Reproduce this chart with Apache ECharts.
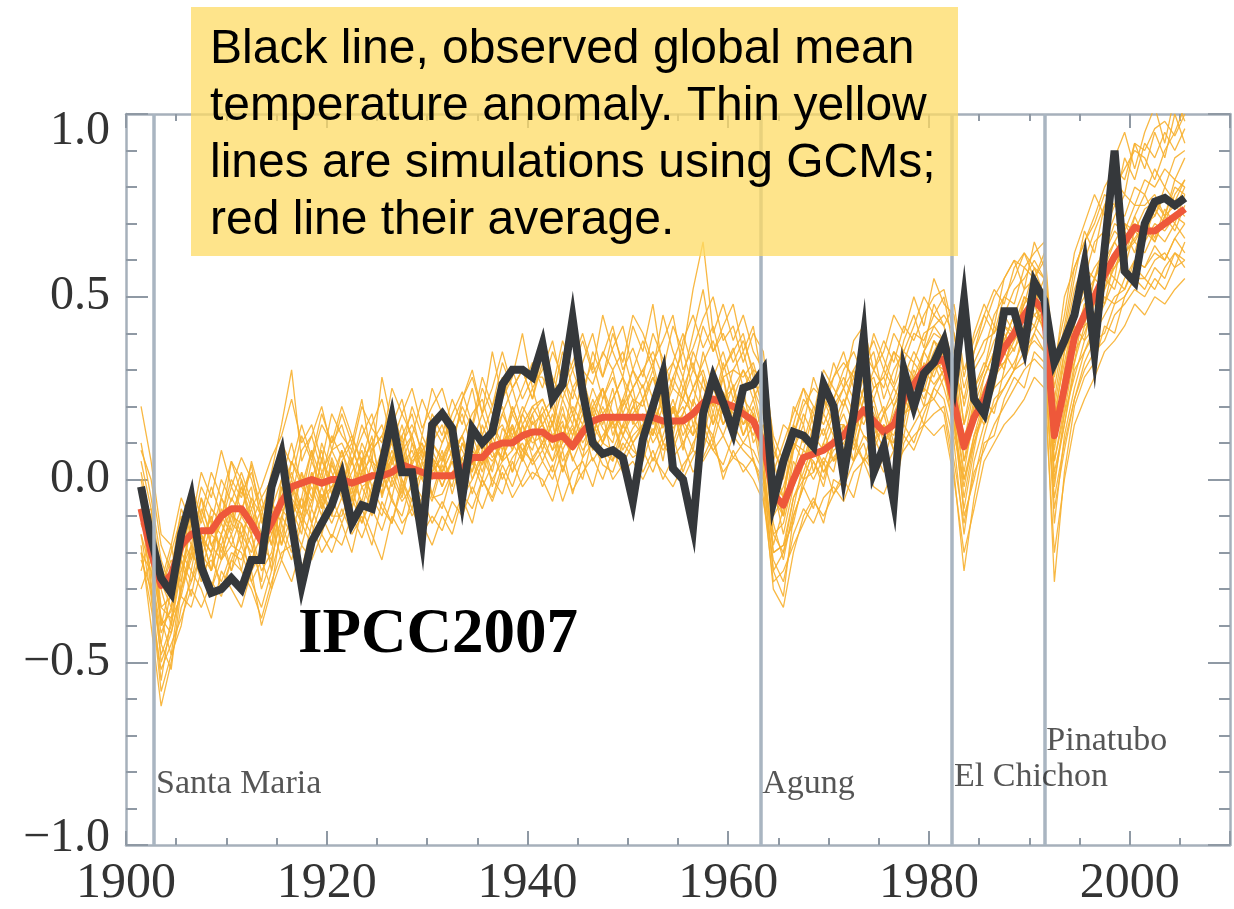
<!DOCTYPE html>
<html>
<head>
<meta charset="utf-8">
<title>Global mean temperature anomaly: observations and GCM simulations</title>
<script src="https://cdn.jsdelivr.net/npm/echarts@6.0.0/dist/echarts.min.js"></script>
<style>
  html, body { margin: 0; padding: 0; background: #ffffff; }
  #chart { width: 1234px; height: 909px; }
</style>
</head>
<body>
<div id="chart"></div>
<script>
// Annual values start in this year; each is plotted at mid-year.
const firstYear = 1901;

// Observed global mean temperature anomaly (°C), 1901-2005
const observed = [
  -0.02, -0.16, -0.27, -0.31, -0.15, -0.05, -0.24, -0.31, -0.30, -0.27,
  -0.30, -0.22, -0.22, -0.02, 0.07, -0.12, -0.29, -0.17, -0.12, -0.07,
  0.01, -0.12, -0.07, -0.08, 0.04, 0.17, 0.02, 0.02, -0.16, 0.15,
  0.18, 0.14, -0.05, 0.14, 0.10, 0.13, 0.26, 0.30, 0.30, 0.28,
  0.37, 0.22, 0.26, 0.44, 0.24, 0.10, 0.07, 0.08, 0.06, -0.06,
  0.11, 0.20, 0.29, 0.03, 0.00, -0.13, 0.18, 0.28, 0.21, 0.13,
  0.25, 0.26, 0.30, -0.06, 0.05, 0.13, 0.12, 0.09, 0.26, 0.20,
  0.01, 0.18, 0.39, 0.02, 0.09, -0.06, 0.30, 0.20, 0.29, 0.32,
  0.38, 0.26, 0.49, 0.22, 0.18, 0.30, 0.46, 0.46, 0.36, 0.54,
  0.49, 0.32, 0.38, 0.45, 0.59, 0.35, 0.63, 0.90, 0.57, 0.54,
  0.70, 0.76, 0.77, 0.75, 0.77
];

// Multi-model ensemble mean (°C), 1901-2005
const modelMean = [
  -0.08, -0.20, -0.29, -0.26, -0.18, -0.15, -0.14, -0.14, -0.10, -0.08,
  -0.08, -0.12, -0.17, -0.12, -0.06, -0.02, -0.01, 0.00, -0.01, 0.00,
  0.00, -0.01, 0.00, 0.01, 0.01, 0.02, 0.04, 0.03, 0.02, 0.01,
  0.01, 0.01, 0.03, 0.06, 0.06, 0.09, 0.10, 0.10, 0.12, 0.13,
  0.13, 0.11, 0.12, 0.09, 0.13, 0.16, 0.17, 0.17, 0.17, 0.17,
  0.17, 0.17, 0.16, 0.16, 0.16, 0.18, 0.21, 0.22, 0.21, 0.20,
  0.18, 0.16, 0.10, -0.04, -0.07, 0.00, 0.06, 0.07, 0.08, 0.10,
  0.12, 0.16, 0.19, 0.16, 0.13, 0.15, 0.22, 0.26, 0.30, 0.32,
  0.33, 0.21, 0.09, 0.17, 0.22, 0.30, 0.36, 0.40, 0.45, 0.49,
  0.46, 0.12, 0.25, 0.39, 0.45, 0.50, 0.56, 0.61, 0.65, 0.69,
  0.68, 0.68, 0.70, 0.72, 0.74
];

// Individual GCM simulations (°C), 1901-2005
const simRuns = [
  [0.10,-0.05,-0.22,-0.30,-0.12,-0.02,-0.10,0.02,-0.05,0.05,
   0.00,-0.08,-0.02,0.06,0.12,0.22,0.10,0.15,0.05,0.18,
   0.12,0.08,0.20,0.14,0.10,0.25,0.18,0.12,0.22,0.15,
   0.10,0.18,0.24,0.15,0.28,0.20,0.32,0.25,0.30,0.22,
   0.35,0.28,0.22,0.30,0.38,0.29,0.34,0.42,0.30,0.36,
   0.28,0.40,0.33,0.25,0.38,0.45,0.36,0.42,0.30,0.35,
   0.40,0.28,0.20,0.02,0.10,0.18,0.25,0.15,0.28,0.22,
   0.30,0.35,0.28,0.40,0.33,0.26,0.38,0.45,0.36,0.48,
   0.42,0.30,0.22,0.35,0.45,0.52,0.48,0.58,0.62,0.55,
   0.60,0.25,0.40,0.55,0.68,0.62,0.75,0.82,0.78,0.92,
   0.85,0.95,0.88,1.00,0.92],
  [-0.20,-0.35,-0.52,-0.45,-0.38,-0.30,-0.35,-0.28,-0.32,-0.22,
   -0.25,-0.30,-0.38,-0.28,-0.20,-0.18,-0.25,-0.12,-0.20,-0.15,
   -0.18,-0.10,-0.16,-0.08,-0.14,-0.05,-0.12,-0.08,-0.15,-0.10,
   -0.14,-0.06,-0.10,-0.02,-0.08,0.00,-0.04,0.05,-0.02,0.02,
   0.00,-0.06,0.04,-0.03,0.02,0.06,0.00,0.08,0.02,0.05,
   0.00,0.06,0.02,-0.02,0.04,0.08,0.05,0.10,0.02,0.06,
   0.04,0.00,-0.06,-0.22,-0.28,-0.15,-0.08,-0.12,-0.05,-0.02,
   -0.06,0.02,0.05,-0.02,-0.04,0.03,0.08,0.12,0.15,0.18,
   0.20,0.05,-0.12,0.02,0.08,0.15,0.20,0.25,0.30,0.33,
   0.30,-0.05,0.10,0.22,0.30,0.35,0.38,0.45,0.48,0.52,
   0.50,0.55,0.52,0.58,0.60],
  [-0.02,-0.28,-0.48,-0.40,-0.25,-0.18,-0.22,-0.12,-0.15,-0.05,
   -0.10,-0.15,-0.25,-0.20,-0.05,0.02,-0.08,0.05,-0.02,0.08,
   0.02,-0.06,0.05,0.10,-0.02,0.06,0.12,0.00,0.08,-0.04,
   0.05,0.10,0.02,0.12,0.05,0.15,0.08,0.18,0.12,0.20,
   0.15,0.08,0.18,0.12,0.22,0.16,0.25,0.18,0.12,0.20,
   0.26,0.15,0.22,0.10,0.18,0.25,0.30,0.20,0.28,0.16,
   0.22,0.18,0.05,-0.20,-0.18,-0.05,0.02,0.10,0.04,0.12,
   0.18,0.10,0.22,0.15,0.08,0.20,0.25,0.18,0.32,0.28,
   0.36,0.18,-0.05,0.10,0.20,0.28,0.35,0.30,0.42,0.48,
   0.40,-0.02,0.18,0.35,0.40,0.48,0.55,0.52,0.62,0.66,
   0.70,0.65,0.72,0.68,0.75],
  [-0.12,-0.18,-0.30,-0.22,-0.28,-0.10,-0.16,-0.20,-0.08,-0.14,
   -0.02,-0.12,-0.18,-0.06,-0.12,0.05,0.00,-0.08,0.06,-0.04,
   0.08,0.00,-0.06,0.05,0.02,-0.05,0.08,0.12,0.02,0.06,
   -0.02,0.06,0.12,0.04,0.10,0.02,0.14,0.10,0.05,0.16,
   0.10,0.18,0.08,0.14,0.06,0.20,0.14,0.10,0.22,0.16,
   0.12,0.20,0.14,0.22,0.12,0.18,0.10,0.25,0.18,0.26,
   0.15,0.22,0.12,0.00,-0.10,0.05,0.00,0.08,0.14,0.05,
   0.12,0.20,0.15,0.22,0.12,0.10,0.18,0.30,0.24,0.34,
   0.28,0.24,0.10,0.20,0.15,0.32,0.38,0.45,0.40,0.50,
   0.52,0.15,0.22,0.42,0.38,0.52,0.48,0.60,0.68,0.62,
   0.72,0.66,0.74,0.70,0.78],
  [0.20,0.05,-0.15,-0.18,-0.05,-0.12,0.02,-0.05,0.08,-0.02,
   0.06,0.00,-0.10,0.02,0.15,0.30,0.05,0.12,0.20,0.08,
   0.18,0.10,0.22,0.05,0.28,0.15,0.08,0.20,0.12,0.25,
   0.18,0.08,0.22,0.30,0.18,0.35,0.22,0.28,0.40,0.25,
   0.30,0.38,0.25,0.32,0.40,0.30,0.45,0.35,0.28,0.42,
   0.35,0.48,0.30,0.42,0.35,0.52,0.65,0.40,0.48,0.38,
   0.45,0.35,0.30,0.12,0.05,0.20,0.15,0.28,0.20,0.32,
   0.25,0.38,0.42,0.30,0.35,0.45,0.40,0.50,0.42,0.55,
   0.48,0.45,0.28,0.40,0.48,0.42,0.55,0.60,0.52,0.65,
   0.58,0.32,0.45,0.62,0.70,0.78,0.72,0.88,0.95,0.85,
   0.95,1.02,0.92,1.05,0.98],
  [-0.18,-0.40,-0.62,-0.50,-0.35,-0.28,-0.20,-0.30,-0.22,-0.18,
   -0.20,-0.28,-0.35,-0.25,-0.15,-0.22,-0.12,-0.18,-0.10,-0.16,
   -0.08,-0.15,-0.10,-0.18,-0.06,-0.12,-0.02,-0.10,-0.05,-0.12,
   -0.06,-0.12,-0.04,-0.08,0.00,-0.05,0.04,-0.02,0.06,0.00,
   0.05,0.00,0.08,-0.04,0.06,0.10,0.04,0.02,0.10,0.06,
   0.08,0.02,0.10,0.05,0.00,0.06,0.12,0.08,0.04,0.12,
   0.08,0.05,-0.02,-0.30,-0.35,-0.20,-0.10,-0.05,-0.12,0.00,
   -0.02,0.05,0.10,0.00,0.06,-0.05,0.10,0.15,0.20,0.22,
   0.18,0.02,-0.25,-0.05,0.10,0.12,0.22,0.28,0.25,0.35,
   0.32,-0.28,0.02,0.20,0.28,0.32,0.42,0.40,0.50,0.55,
   0.52,0.58,0.55,0.62,0.58],
  [-0.05,-0.10,-0.35,-0.32,-0.20,-0.25,-0.10,-0.18,-0.12,-0.02,
   -0.08,-0.02,-0.22,-0.15,-0.08,-0.12,0.02,-0.05,0.10,0.02,
   -0.05,0.05,-0.02,0.00,0.08,0.02,-0.05,0.06,0.10,0.00,
   0.08,-0.04,0.06,0.10,0.02,0.12,0.05,0.15,0.08,0.12,
   0.20,0.12,0.16,0.05,0.12,0.22,0.15,0.25,0.12,0.18,
   0.22,0.12,0.25,0.18,0.28,0.15,0.22,0.30,0.20,0.14,
   0.25,0.10,0.15,-0.08,-0.02,0.08,0.15,0.02,0.10,0.18,
   0.08,0.15,0.25,0.12,0.18,0.22,0.30,0.22,0.28,0.35,
   0.40,0.30,0.05,0.15,0.28,0.35,0.30,0.42,0.50,0.45,
   0.48,0.08,0.25,0.32,0.48,0.45,0.58,0.65,0.60,0.72,
   0.66,0.74,0.70,0.78,0.82],
  [-0.15,-0.25,-0.42,-0.35,-0.22,-0.08,-0.18,-0.10,-0.20,-0.12,
   -0.15,-0.20,-0.10,-0.18,-0.02,-0.08,-0.15,0.02,-0.06,0.04,
   -0.02,0.06,-0.08,0.02,0.00,0.08,0.00,-0.06,0.04,0.08,
   0.02,0.08,0.00,0.05,0.12,0.06,0.10,0.02,0.15,0.10,
   0.12,0.05,0.10,0.15,0.08,0.12,0.20,0.14,0.18,0.10,
   0.15,0.22,0.10,0.16,0.20,0.12,0.28,0.15,0.22,0.25,
   0.12,0.20,0.08,-0.12,-0.22,-0.08,0.05,0.00,0.06,0.02,
   0.15,0.08,0.18,0.20,0.10,0.15,0.12,0.25,0.35,0.30,
   0.32,0.15,-0.02,0.12,0.22,0.25,0.40,0.35,0.45,0.52,
   0.45,0.05,0.20,0.40,0.42,0.55,0.52,0.62,0.58,0.68,
   0.65,0.70,0.68,0.72,0.70],
  [0.05,-0.08,-0.25,-0.28,-0.15,-0.05,-0.12,-0.02,-0.10,0.00,
   -0.05,0.04,-0.12,-0.05,0.08,0.00,0.12,0.05,0.15,0.10,
   0.15,0.05,0.12,0.18,0.06,0.15,0.22,0.10,0.05,0.18,
   0.12,0.22,0.15,0.25,0.12,0.20,0.28,0.18,0.25,0.32,
   0.25,0.35,0.28,0.22,0.32,0.40,0.28,0.36,0.42,0.30,
   0.38,0.30,0.45,0.35,0.28,0.40,0.52,0.35,0.42,0.48,
   0.35,0.42,0.25,0.05,0.15,0.12,0.22,0.18,0.30,0.25,
   0.20,0.30,0.35,0.25,0.28,0.35,0.32,0.40,0.38,0.45,
   0.50,0.35,0.15,0.30,0.35,0.45,0.50,0.48,0.58,0.55,
   0.62,0.20,0.35,0.48,0.55,0.65,0.68,0.75,0.72,0.80,
   0.78,0.85,0.80,0.88,0.90],
  [-0.10,-0.22,-0.38,-0.42,-0.30,-0.20,-0.25,-0.15,-0.18,-0.10,
   -0.12,-0.18,-0.28,-0.10,-0.15,-0.05,-0.10,0.00,-0.08,-0.02,
   0.04,-0.05,0.02,-0.04,0.05,-0.02,0.06,0.02,-0.08,0.04,
   0.00,0.05,-0.02,0.08,0.04,0.10,0.06,0.12,0.08,0.05,
   0.10,0.15,0.05,0.10,0.18,0.08,0.12,0.16,0.08,0.14,
   0.18,0.10,0.15,0.20,0.08,0.22,0.16,0.12,0.24,0.18,
   0.20,0.15,0.10,-0.15,-0.12,0.00,0.08,0.05,0.00,0.10,
   0.05,0.18,0.12,0.08,0.15,0.12,0.22,0.18,0.30,0.26,
   0.30,0.20,0.02,0.18,0.25,0.30,0.32,0.38,0.42,0.48,
   0.42,0.10,0.28,0.36,0.45,0.50,0.55,0.58,0.64,0.70,
   0.68,0.65,0.72,0.75,0.72],
  [0.00,-0.15,-0.30,-0.20,-0.10,-0.18,-0.05,-0.12,0.00,-0.06,
   0.02,-0.06,-0.15,-0.08,0.00,0.10,-0.02,0.08,0.00,0.12,
   0.06,0.12,0.04,0.10,0.15,0.05,0.12,0.18,0.06,0.10,
   0.15,0.06,0.12,0.18,0.22,0.12,0.18,0.25,0.15,0.20,
   0.22,0.15,0.30,0.18,0.25,0.32,0.22,0.28,0.20,0.30,
   0.25,0.32,0.20,0.28,0.35,0.25,0.32,0.38,0.28,0.30,
   0.28,0.32,0.22,0.00,-0.05,0.15,0.10,0.20,0.15,0.22,
   0.28,0.22,0.30,0.35,0.22,0.30,0.35,0.32,0.40,0.42,
   0.45,0.40,0.20,0.32,0.38,0.40,0.45,0.52,0.55,0.60,
   0.55,0.22,0.38,0.52,0.60,0.68,0.75,0.80,0.85,0.90,
   0.88,0.82,0.90,0.95,1.02],
  [-0.22,-0.30,-0.55,-0.38,-0.32,-0.35,-0.25,-0.22,-0.28,-0.20,
   -0.22,-0.15,-0.30,-0.22,-0.10,-0.15,-0.05,-0.12,-0.02,-0.10,
   -0.10,-0.02,-0.12,-0.05,-0.10,0.00,-0.06,-0.02,0.05,-0.05,
   -0.04,0.02,0.06,-0.04,0.05,0.08,0.00,0.06,0.10,0.04,
   0.08,0.02,0.12,0.06,0.00,0.12,0.08,0.05,0.12,0.08,
   0.05,0.14,0.08,0.12,0.02,0.10,0.15,0.08,0.12,0.06,
   0.10,0.08,0.02,-0.25,-0.20,-0.10,-0.02,-0.08,0.05,-0.04,
   0.02,0.10,0.05,0.08,0.02,0.08,0.15,0.10,0.18,0.25,
   0.22,0.10,-0.15,0.05,0.15,0.20,0.25,0.30,0.35,0.38,
   0.35,-0.12,0.12,0.25,0.35,0.40,0.45,0.50,0.52,0.58,
   0.55,0.60,0.62,0.58,0.65],
  [-0.08,-0.30,-0.45,-0.30,-0.15,-0.22,-0.08,-0.15,-0.05,-0.10,
   -0.02,-0.10,-0.20,-0.12,-0.05,0.05,-0.02,-0.06,0.05,0.00,
   0.08,-0.02,0.10,0.04,-0.04,0.12,0.04,0.08,0.00,0.10,
   0.05,0.12,0.08,0.02,0.15,0.08,0.18,0.12,0.20,0.15,
   0.18,0.22,0.12,0.20,0.15,0.25,0.18,0.22,0.28,0.22,
   0.20,0.28,0.18,0.25,0.22,0.30,0.25,0.20,0.32,0.22,
   0.30,0.25,0.18,-0.05,-0.10,0.02,0.12,0.08,0.18,0.12,
   0.20,0.28,0.18,0.25,0.28,0.20,0.28,0.35,0.30,0.38,
   0.35,0.28,0.08,0.22,0.30,0.38,0.42,0.40,0.48,0.58,
   0.50,0.12,0.30,0.45,0.52,0.58,0.62,0.70,0.68,0.75,
   0.75,0.78,0.72,0.80,0.78],
  [-0.12,-0.20,-0.40,-0.28,-0.25,-0.12,-0.20,-0.25,-0.15,-0.08,
   -0.15,-0.08,-0.18,-0.22,-0.10,-0.02,-0.08,-0.02,-0.10,0.05,
   -0.04,0.02,0.08,-0.02,0.04,0.10,-0.02,0.05,0.08,0.02,
   0.06,0.00,0.10,0.06,0.00,0.12,0.15,0.08,0.18,0.12,
   0.15,0.10,0.20,0.08,0.14,0.18,0.25,0.12,0.20,0.25,
   0.12,0.20,0.28,0.15,0.22,0.18,0.20,0.28,0.15,0.22,
   0.18,0.12,0.20,-0.02,-0.15,-0.02,0.05,0.12,0.08,0.15,
   0.15,0.12,0.22,0.18,0.12,0.18,0.25,0.28,0.22,0.30,
   0.35,0.25,0.12,0.18,0.20,0.32,0.35,0.40,0.45,0.42,
   0.50,0.18,0.25,0.38,0.48,0.50,0.58,0.55,0.70,0.65,
   0.70,0.72,0.78,0.74,0.80],
  [-0.05,-0.12,-0.28,-0.35,-0.20,-0.15,-0.02,-0.08,-0.12,0.05,
   -0.04,0.02,-0.08,-0.02,0.05,-0.05,0.08,0.12,0.02,0.08,
   0.10,0.04,0.15,0.08,0.12,0.20,0.10,0.15,0.08,0.12,
   0.18,0.10,0.20,0.14,0.25,0.18,0.22,0.30,0.22,0.28,
   0.28,0.22,0.35,0.25,0.30,0.26,0.35,0.30,0.35,0.25,
   0.30,0.35,0.28,0.32,0.40,0.30,0.42,0.35,0.40,0.32,
   0.38,0.30,0.28,0.08,0.02,0.12,0.20,0.25,0.22,0.28,
   0.32,0.28,0.35,0.30,0.38,0.32,0.42,0.38,0.45,0.50,
   0.52,0.40,0.25,0.35,0.42,0.50,0.55,0.60,0.58,0.62,
   0.65,0.28,0.42,0.58,0.65,0.72,0.80,0.85,0.82,0.92,
   0.90,0.96,0.98,0.94,1.00],
  [-0.02,-0.18,-0.35,-0.38,-0.22,-0.28,-0.15,-0.20,-0.10,-0.15,
   -0.08,-0.12,-0.05,-0.15,-0.08,0.00,-0.10,0.02,-0.05,-0.02,
   0.00,-0.08,0.02,0.06,-0.04,0.02,0.08,-0.02,0.02,0.06,
   0.02,0.08,0.12,0.00,0.08,0.05,0.10,0.15,0.05,0.12,
   0.15,0.08,0.12,0.18,0.10,0.15,0.10,0.18,0.14,0.20,
   0.16,0.12,0.20,0.14,0.18,0.25,0.18,0.22,0.15,0.20,
   0.15,0.18,0.05,-0.18,-0.08,0.00,0.05,0.10,0.02,0.08,
   0.10,0.15,0.18,0.12,0.05,0.15,0.20,0.25,0.28,0.32,
   0.30,0.12,0.00,0.12,0.18,0.28,0.32,0.36,0.40,0.45,
   0.42,0.02,0.15,0.32,0.42,0.45,0.52,0.58,0.62,0.65,
   0.62,0.68,0.65,0.70,0.66],
  [-0.25,-0.15,-0.38,-0.48,-0.28,-0.12,-0.22,-0.30,-0.18,-0.25,
   -0.12,-0.22,-0.15,-0.05,-0.18,-0.10,0.02,-0.12,-0.04,-0.10,
   0.02,-0.08,0.05,-0.10,0.00,0.06,-0.04,0.10,0.00,-0.06,
   0.04,-0.02,0.10,0.02,0.12,-0.02,0.08,0.14,0.06,0.18,
   0.08,0.16,0.02,0.12,0.20,0.10,0.18,0.05,0.15,0.22,
   0.10,0.18,0.05,0.20,0.15,0.08,0.22,0.15,0.28,0.12,
   0.20,0.05,0.00,-0.25,-0.32,-0.10,-0.02,0.05,-0.02,0.10,
   0.15,0.05,0.20,0.10,0.18,0.08,0.15,0.28,0.20,0.32,
   0.25,0.15,-0.08,0.08,0.22,0.18,0.30,0.42,0.35,0.40,
   0.48,0.00,0.15,0.30,0.35,0.42,0.50,0.48,0.55,0.60,
   0.58,0.62,0.60,0.66,0.62],
  [0.08,0.00,-0.18,-0.25,-0.08,-0.15,-0.20,-0.08,-0.12,-0.18,
   -0.10,0.05,-0.05,0.00,0.10,0.04,0.15,0.06,0.18,0.10,
   0.20,0.12,0.05,0.15,0.22,0.10,0.18,0.25,0.14,0.20,
   0.25,0.15,0.22,0.28,0.18,0.25,0.35,0.25,0.30,0.22,
   0.32,0.25,0.38,0.30,0.22,0.35,0.28,0.40,0.32,0.45,
   0.40,0.32,0.38,0.45,0.30,0.36,0.44,0.50,0.38,0.42,
   0.32,0.40,0.35,0.10,0.00,0.15,0.25,0.20,0.18,0.28,
   0.35,0.25,0.32,0.38,0.30,0.40,0.35,0.42,0.50,0.45,
   0.42,0.48,0.30,0.38,0.45,0.40,0.50,0.55,0.62,0.58,
   0.55,0.30,0.50,0.58,0.65,0.70,0.78,0.75,0.88,0.82,
   0.92,0.88,0.95,0.90,0.96],
  [-0.15,-0.32,-0.58,-0.48,-0.40,-0.25,-0.30,-0.38,-0.25,-0.30,
   -0.35,-0.25,-0.40,-0.30,-0.22,-0.28,-0.18,-0.22,-0.15,-0.20,
   -0.12,-0.20,-0.08,-0.15,-0.22,-0.10,-0.15,-0.05,-0.12,-0.18,
   -0.10,-0.15,-0.05,-0.12,0.00,-0.06,0.02,-0.05,0.00,0.06,
   -0.02,0.04,-0.06,0.02,0.05,-0.02,0.08,0.00,0.04,0.10,
   0.02,0.08,0.00,0.06,0.10,0.02,0.06,0.12,0.00,0.08,
   0.02,0.06,-0.05,-0.28,-0.25,-0.18,-0.12,-0.06,-0.10,-0.04,
   0.00,-0.05,0.06,0.02,0.08,0.00,0.12,0.08,0.15,0.12,
   0.15,0.00,-0.20,-0.08,0.05,0.10,0.15,0.18,0.22,0.28,
   0.25,-0.20,0.00,0.15,0.22,0.28,0.35,0.38,0.42,0.48,
   0.45,0.50,0.48,0.52,0.55],
  [-0.08,-0.20,-0.28,-0.18,-0.32,-0.20,-0.05,-0.18,-0.22,-0.08,
   -0.18,-0.05,-0.10,-0.25,-0.02,-0.10,-0.05,0.08,-0.08,0.06,
   -0.02,0.08,0.02,0.12,-0.05,0.05,0.15,0.04,0.10,0.02,
   0.10,0.16,0.04,0.10,0.18,0.10,0.05,0.20,0.12,0.08,
   0.18,0.10,0.22,0.15,0.28,0.18,0.10,0.22,0.28,0.15,
   0.22,0.30,0.18,0.12,0.25,0.32,0.20,0.28,0.35,0.25,
   0.30,0.22,0.28,0.05,-0.05,0.10,0.05,0.15,0.22,0.15,
   0.22,0.15,0.25,0.28,0.18,0.25,0.20,0.32,0.28,0.38,
   0.32,0.35,0.15,0.25,0.32,0.28,0.42,0.38,0.50,0.48,
   0.55,0.18,0.32,0.45,0.50,0.55,0.62,0.68,0.65,0.72,
   0.78,0.72,0.80,0.76,0.82],
  [0.02,-0.12,-0.40,-0.36,-0.18,-0.10,-0.15,-0.25,-0.05,-0.12,
   0.00,-0.15,-0.08,-0.18,0.00,-0.06,-0.12,0.00,0.08,-0.04,
   0.05,0.10,0.00,0.08,0.12,0.04,0.10,-0.02,0.12,0.06,
   0.02,0.12,0.18,0.08,0.04,0.15,0.20,0.10,0.18,0.25,
   0.15,0.20,0.10,0.25,0.18,0.12,0.22,0.30,0.18,0.25,
   0.30,0.22,0.15,0.28,0.22,0.35,0.28,0.18,0.30,0.36,
   0.25,0.30,0.18,-0.02,-0.10,0.08,0.18,0.12,0.22,0.18,
   0.25,0.30,0.22,0.30,0.25,0.35,0.28,0.22,0.35,0.40,
   0.38,0.32,0.10,0.25,0.30,0.42,0.38,0.45,0.52,0.55,
   0.50,0.15,0.35,0.42,0.58,0.55,0.65,0.72,0.78,0.75,
   0.82,0.80,0.85,0.82,0.88],
  [-0.20,-0.25,-0.45,-0.52,-0.30,-0.22,-0.15,-0.25,-0.15,-0.25,
   -0.18,-0.25,-0.20,-0.12,-0.22,-0.12,-0.18,-0.08,-0.15,-0.05,
   -0.12,-0.05,-0.12,-0.02,-0.08,-0.12,0.00,-0.08,0.02,-0.04,
   -0.08,0.02,-0.04,0.05,-0.02,0.04,0.10,0.02,0.08,0.12,
   0.05,0.12,0.02,0.10,0.15,0.05,0.10,0.16,0.06,0.12,
   0.15,0.05,0.12,0.20,0.10,0.15,0.08,0.18,0.12,0.20,
   0.12,0.18,0.02,-0.20,-0.18,-0.12,0.00,0.02,0.10,0.05,
   0.08,0.12,0.05,0.15,0.20,0.10,0.18,0.22,0.15,0.25,
   0.30,0.20,0.00,0.10,0.18,0.25,0.28,0.32,0.38,0.42,
   0.38,0.05,0.18,0.28,0.38,0.42,0.48,0.55,0.52,0.60,
   0.58,0.64,0.60,0.66,0.70],
  [-0.10,-0.08,-0.30,-0.40,-0.22,-0.32,-0.18,-0.10,-0.22,-0.15,
   -0.25,-0.10,-0.18,-0.08,-0.18,-0.02,-0.12,-0.06,0.02,-0.08,
   0.05,-0.04,0.06,-0.06,0.08,0.00,0.05,0.12,0.02,0.10,
   0.06,0.12,0.02,0.15,0.08,0.15,0.10,0.20,0.12,0.18,
   0.22,0.15,0.25,0.18,0.12,0.20,0.25,0.15,0.22,0.30,
   0.22,0.28,0.22,0.32,0.25,0.20,0.35,0.25,0.20,0.30,
   0.35,0.25,0.12,-0.10,-0.05,0.10,0.08,0.18,0.12,0.20,
   0.25,0.18,0.28,0.22,0.30,0.25,0.32,0.28,0.35,0.42,
   0.38,0.28,0.05,0.20,0.28,0.35,0.45,0.40,0.48,0.52,
   0.52,0.10,0.28,0.40,0.45,0.55,0.60,0.65,0.70,0.68,
   0.74,0.76,0.72,0.82,0.80],
  [-0.30,-0.22,-0.50,-0.42,-0.30,-0.18,-0.28,-0.20,-0.30,-0.22,
   -0.15,-0.28,-0.22,-0.30,-0.12,-0.20,-0.10,-0.15,-0.06,-0.12,
   -0.05,-0.12,-0.02,-0.08,0.02,-0.06,-0.10,0.00,-0.05,0.05,
   -0.02,0.05,-0.05,0.00,0.06,0.00,0.05,0.08,0.15,0.06,
   0.10,0.05,0.15,0.08,0.12,0.18,0.10,0.08,0.15,0.10,
   0.14,0.18,0.10,0.08,0.16,0.12,0.18,0.10,0.20,0.15,
   0.10,0.15,0.00,-0.15,-0.20,-0.05,0.00,0.08,0.02,0.06,
   0.10,0.05,0.12,0.10,0.15,0.08,0.18,0.20,0.25,0.22,
   0.28,0.18,-0.10,0.00,0.12,0.22,0.25,0.30,0.32,0.40,
   0.35,-0.08,0.08,0.22,0.32,0.38,0.40,0.48,0.50,0.55,
   0.55,0.52,0.58,0.62,0.60]
];

// Major volcanic eruptions (decimal year of eruption)
const eruptionNames = ['Santa Maria', 'Agung', 'El Chichon', 'Pinatubo'];
const eruptionDates = [1902.8, 1963.2, 1982.3, 1991.5];

// Axis tick labels
const xLabelYears = [1900, 1920, 1940, 1960, 1980, 2000];
const yLabelValues = [-1.0, -0.5, 0.0, 0.5, 1.0];

const boxText = [
  'Black line, observed global mean',
  'temperature anomaly. Thin yellow',
  'lines are simulations using GCMs;',
  'red line their average.'
];

const serif = '"Liberation Serif", "Times New Roman", serif';
const sans = '"Liberation Sans", Arial, sans-serif';

const toPairs = arr => arr.map((v, i) => [firstYear + i + 0.5, v]);

const frameLine = { show: true, onZero: false, lineStyle: { color: '#a6b0bb', width: 2.5 } };
const tickLine = { color: '#8f99a4', width: 2 };

function yLabel(v) {
  if (!yLabelValues.some(t => Math.abs(t - v) < 1e-9)) return '';
  const s = Math.abs(v).toFixed(1);
  const txt = v < -1e-9 ? '\u2212' + s : s;
  if (Math.abs(v - 1) < 1e-9) return '{hi|' + txt + '}';
  if (Math.abs(v + 1) < 1e-9) return '{lo|' + txt + '}';
  return '{n|' + txt + '}';
}
const yRich = {
  n:  { fontFamily: serif, fontSize: 48, color: '#333333' },
  hi: { fontFamily: serif, fontSize: 48, color: '#333333', padding: [34, 0, 0, 0] },
  lo: { fontFamily: serif, fontSize: 48, color: '#333333', padding: [0, 0, 14, 0] }
};

function xMinorAxis(pos, withLabels) {
  return {
    type: 'value', position: pos, min: 1900, max: 2010, interval: 5,
    axisLine: frameLine,
    axisTick: { show: true, inside: true, length: 7, lineStyle: tickLine },
    splitLine: { show: false },
    axisLabel: withLabels ? {
      show: true, interval: 0, margin: 14,
      fontFamily: serif, fontSize: 50, color: '#333333',
      formatter: v => xLabelYears.includes(v) ? String(v) : ''
    } : { show: false }
  };
}
function xMajorAxis(pos) {
  return {
    type: 'value', position: pos, min: 1900, max: 2010, interval: 20,
    axisLine: { show: false, onZero: false },
    axisTick: { show: true, inside: true, length: 14, lineStyle: tickLine },
    splitLine: { show: false },
    axisLabel: { show: false }
  };
}
function yAxisDef(pos, withLabels) {
  return {
    type: 'value', position: pos, min: -1, max: 1, interval: 0.5,
    axisLine: frameLine,
    axisTick: { show: true, inside: true, length: 22, lineStyle: tickLine },
    minorTick: { show: true, splitNumber: 5, length: 11, lineStyle: tickLine },
    splitLine: { show: false },
    minorSplitLine: { show: false },
    axisLabel: withLabels ? {
      show: true, margin: 16, formatter: yLabel, rich: yRich
    } : { show: false }
  };
}

const series = [];

// Eruption markers
series.push({
  type: 'line', data: [], xAxisIndex: 0, yAxisIndex: 0, silent: true, z: 1,
  markLine: {
    silent: true, symbol: ['none', 'none'], animation: false,
    label: { show: false },
    emphasis: { disabled: true },
    lineStyle: { color: '#a9b5c1', width: 3.5, type: 'solid' },
    data: eruptionDates.map(d => ({ xAxis: d }))
  }
});

// Individual simulations
simRuns.forEach(run => {
  series.push({
    type: 'line', data: toPairs(run), xAxisIndex: 0, yAxisIndex: 0,
    showSymbol: false, symbol: 'none', silent: true, z: 2,
    lineStyle: { color: '#f7b02f', width: 1.3, opacity: 0.9 }
  });
});

// Ensemble mean
series.push({
  type: 'line', data: toPairs(modelMean), xAxisIndex: 0, yAxisIndex: 0,
  showSymbol: false, symbol: 'none', silent: true, z: 3,
  lineStyle: { color: '#ee583a', width: 7, join: 'round' }
});

// Observations
series.push({
  type: 'line', data: toPairs(observed), xAxisIndex: 0, yAxisIndex: 0,
  showSymbol: false, symbol: 'none', silent: true, z: 4,
  lineStyle: { color: '#35383b', width: 8, join: 'miter' }
});

// Eruption names beside their markers
const eruptionLabelLevel = [-0.833, -0.833, -0.814, -0.716];
series.push({
  type: 'scatter', xAxisIndex: 0, yAxisIndex: 0, silent: true, z: 5,
  symbolSize: 0,
  data: eruptionNames.map((name, i) => ({ name, value: [eruptionDates[i], eruptionLabelLevel[i]] })),
  label: {
    show: true, position: 'right', distance: 2, formatter: '{b}',
    fontFamily: serif, fontSize: 34, color: '#2a2a2a'
  }
});

const chart = echarts.init(document.getElementById('chart'), null, { renderer: 'canvas' });
chart.setOption({
  animation: false,
  backgroundColor: '#ffffff',
  grid: { left: 126, right: 4, top: 114, bottom: 60, containLabel: false },
  xAxis: [xMinorAxis('bottom', true), xMajorAxis('bottom'), xMinorAxis('top', false), xMajorAxis('top')],
  yAxis: [yAxisDef('left', true), yAxisDef('right', false)],
  series,
  graphic: [
    {
      type: 'rect', z: 100, silent: true,
      shape: { x: 191, y: 7, width: 767, height: 249 },
      style: { fill: 'rgba(253, 219, 100, 0.75)' }
    },
    {
      type: 'text', z: 101, silent: true, x: 210, y: 21,
      style: {
        text: boxText.join('\n'), font: '48px ' + sans, lineHeight: 57,
        fill: '#000000', verticalAlign: 'top', align: 'left'
      }
    },
    {
      type: 'text', z: 101, silent: true, x: 298, y: 636,
      style: {
        text: 'IPCC2007', font: 'bold 63px ' + serif,
        fill: '#000000', verticalAlign: 'middle', align: 'left'
      }
    }
  ]
});
</script>
</body>
</html>
